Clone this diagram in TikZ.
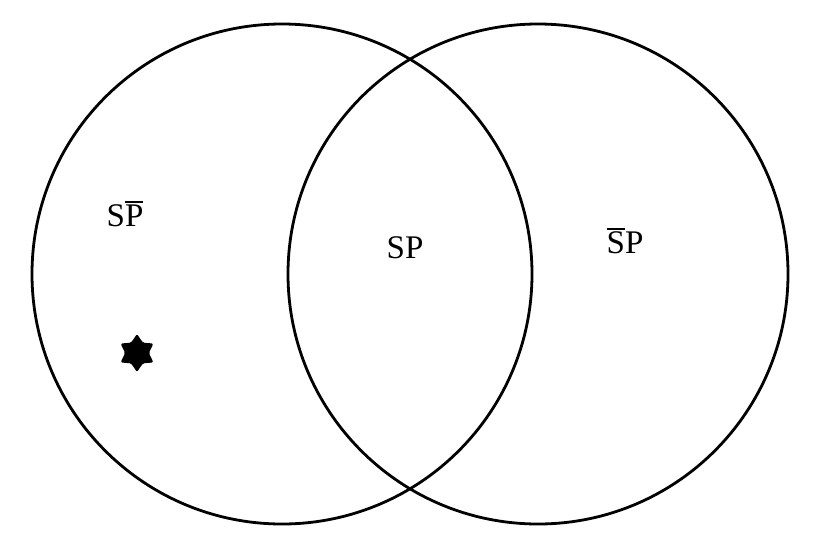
\documentclass[tikz,border=0pt]{standalone}
\usepackage{fontspec}
\setmainfont{Liberation Serif}
\usetikzlibrary{shapes.geometric}
\newcommand\mybar[1]{\leavevmode\setbox0\hbox{#1}\rlap{\rule[\dimexpr\ht0+2.5pt\relax]{\wd0}{1.8pt}}\box0}
\tikzset{
  set/.style={draw=black, line width=2.8pt, circle, minimum size=500pt, inner sep=0pt},
  lbl/.style={font=\fontsize{33}{36}\selectfont, inner sep=0pt},
}
\begin{document}
\begin{tikzpicture}[x=1pt,y=-1pt]
\useasboundingbox (0,0) rectangle (821,555);
\node[set] (A) at (282,274) {};
\node[set] (B) at (538,274) {};
\node[lbl] (l1) at (125,214) {S\mybar{P}};
\node[lbl] (l2) at (405,248) {SP};
\node[lbl] (l3) at (625,241) {\mybar{S}P};
\node[star, star points=6, star point ratio=1.6, fill=black, minimum size=38pt, inner sep=0pt, rounded corners=1.5pt] (st) at (137,353) {};
\end{tikzpicture}
\end{document}
